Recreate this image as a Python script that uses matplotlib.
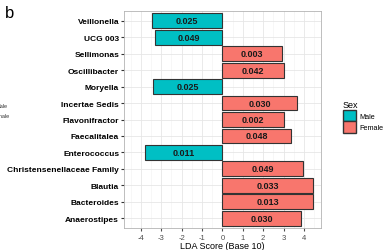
import numpy as np
import matplotlib.pyplot as plt
from matplotlib.patches import Patch

plt.rcParams["font.family"] = ["Liberation Sans", "DejaVu Sans"]
plt.rcParams["axes.unicode_minus"] = False

taxa = ["Veillonella", "UCG 003", "Sellimonas", "Oscillibacter", "Moryella",
        "Incertae Sedis", "Flavonifractor", "Faecalitalea", "Enterococcus",
        "Christensenellaceae Family", "Blautia", "Bacteroides", "Anaerostipes"]
lda = [-3.46, -3.33, 2.94, 3.04, -3.43, 3.68, 3.01, 3.37, -3.79, 3.94, 4.46, 4.46, 3.84]
pvals = ["0.025", "0.049", "0.003", "0.042", "0.025", "0.030", "0.002", "0.048",
         "0.011", "0.049", "0.033", "0.013", "0.030"]
sex = ["Male", "Male", "Female", "Female", "Male", "Female", "Female", "Female",
       "Male", "Female", "Female", "Female", "Female"]
colors = {"Male": "#00BFC4", "Female": "#F8766D"}

fig = plt.figure(figsize=(3.89, 2.51), dpi=100)
ax = fig.add_axes([124 / 389, 1 - 229 / 251, (321 - 124) / 389, (229 - 12) / 251])

y = np.arange(len(taxa))
ax.barh(y, lda, height=0.9, color=[colors[s] for s in sex],
        edgecolor="#333333", linewidth=0.8, zorder=3)
for yi, v, p in zip(y, lda, pvals):
    ax.text(v / 2, yi, p, ha="center", va="center", fontsize=6.5,
            fontweight="bold", color="#1a1a1a", zorder=4)

ax.set_xlim(-4.83, 4.84)
ax.set_ylim(len(taxa) - 0.4, -0.6)
ax.set_yticks(y)
ax.set_yticklabels(taxa, fontsize=6, fontweight="bold")
ax.set_xticks(np.arange(-4, 5))
ax.set_xticks(np.arange(-4.5, 5, 1), minor=True)
ax.tick_params(axis="x", labelsize=5.5, length=2, pad=2, colors="#4d4d4d")
ax.tick_params(axis="y", length=2, pad=1.5, colors="#333333", labelcolor="black")
ax.tick_params(which="minor", length=0)
ax.grid(True, which="major", color="#e6e6e6", linewidth=0.6, zorder=0)
ax.grid(True, which="minor", axis="x", color="#f2f2f2", linewidth=0.4, zorder=0)
ax.set_axisbelow(True)
for s in ax.spines.values():
    s.set_color("#b3b3b3")
    s.set_linewidth(0.6)
ax.set_xlabel("LDA Score (Base 10)", fontsize=6.5, labelpad=0.5)

# fit the longest taxon label to the width it has in the reference (~112 px)
fig.canvas.draw()
r = fig.canvas.get_renderer()
w = max(t.get_window_extent(r).width for t in ax.get_yticklabels())
for t in ax.get_yticklabels():
    t.set_fontsize(6 * 112 / w)

handles = [Patch(facecolor=colors["Male"], edgecolor="#333333", label="Male"),
           Patch(facecolor=colors["Female"], edgecolor="#333333", label="Female")]
fig.legend(handles=handles, title="Sex", loc="upper left",
           bbox_to_anchor=(336 / 389, 1 - 95 / 251), frameon=False,
           fontsize=5.2, title_fontsize=6.5, handlelength=1.8, handleheight=2.0,
           handletextpad=0.5, labelspacing=0.05, alignment="left")

fig.text(5 / 389, 1 - 14 / 251, "b", fontsize=12, va="center")
fig.text(7 / 389, 1 - 107 / 251, "Male", fontsize=4, ha="right", va="center", color="#333333")
fig.text(10 / 389, 1 - 117 / 251, "Female", fontsize=4, ha="right", va="center", color="#333333")

fig.savefig("out.png", dpi=100)
